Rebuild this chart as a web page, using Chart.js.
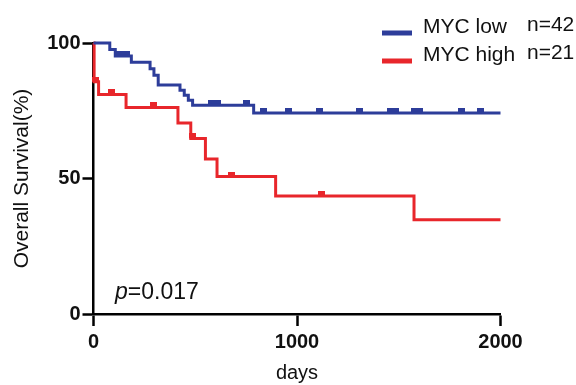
<!DOCTYPE html>
<html>
<head>
<meta charset="utf-8">
<script src="https://cdn.jsdelivr.net/npm/chart.js@4.4.1/dist/chart.umd.min.js"></script>
<style>
  body { margin: 0; background: #fff; }
  canvas { display: block; }
</style>
</head>
<body>
<canvas id="kmChart" width="576" height="385"></canvas>
<script>
// MYC low, n=42 (step at each day, survival % after the step)
let lowDays = [0, 80, 107, 186, 278, 297, 318, 425, 446, 466, 487, 787, 2000];
let lowSurv = [100, 97.6, 95.2, 92.9, 90.5, 88.1, 84.5, 82.6, 80.7, 78.9, 77.0, 74.2, 74.2];
let lowCensored = [125, 140, 160, 580, 610, 750, 835, 960, 1110, 1305, 1460, 1485, 1575, 1600, 1810, 1900];

// MYC high, n=21
let highDays = [0, 3, 25, 160, 415, 478, 550, 607, 895, 1575, 2000];
let highSurv = [100, 85.7, 81.0, 76.2, 70.5, 64.8, 57.2, 50.7, 43.5, 34.8, 34.8];
let highCensored = [10, 90, 297, 485, 679, 1121];

let xTicks = [0, 1000, 2000];
let yTicks = [0, 50, 100];

let blue = '#2d3d9a';
let red = '#e8262b';
let font = 'Liberation Sans, Arial, sans-serif';

function toPoints(days, surv) {
  return days.map(function (d, i) { return { x: d, y: surv[i] }; });
}

// survival level of a curve on a given day (for the censor marks)
function survAt(days, surv, day) {
  let s = surv[0];
  for (let i = 0; i < days.length; i++) {
    if (days[i] <= day) s = surv[i];
  }
  return s;
}

function censorPoints(days, surv, cens) {
  return cens.map(function (d) { return { x: d, y: survAt(days, surv, d) }; });
}

// small block sitting on top of the line
function censorMark(color) {
  let c = document.createElement('canvas');
  c.width = 7;
  c.height = 10;
  let g = c.getContext('2d');
  g.fillStyle = color;
  g.fillRect(0, 0, 7, 5);
  return c;
}

let legendItems = [
  { label: 'MYC low', n: 'n=42', color: blue },
  { label: 'MYC high', n: 'n=21', color: red }
];

const extraText = {
  id: 'extraText',
  afterDraw: function (chart) {
    let c = chart.ctx;
    c.save();
    // legend
    legendItems.forEach(function (item, i) {
      let y = 33 + i * 28;
      c.fillStyle = item.color;
      c.fillRect(382, y - 2.5, 30, 5);
      c.fillStyle = '#111';
      c.font = '21px ' + font;
      c.textBaseline = 'alphabetic';
      c.textAlign = 'left';
      c.fillText(item.label, 423, y);
      c.fillText(item.n, 527, y - 2);
    });
    // p value
    c.font = 'italic 23px ' + font;
    c.fillText('p', 115, 299);
    let w = c.measureText('p').width;
    c.font = '23px ' + font;
    c.fillText('=0.017', 115 + w, 299);
    c.restore();
  }
};

const axisGrid = {
  display: true,
  drawOnChartArea: false,
  drawTicks: true,
  tickWidth: 2.5,
  tickColor: '#000'
};

new Chart(document.getElementById('kmChart').getContext('2d'), {
  type: 'line',
  data: {
    datasets: [
      {
        label: 'MYC low',
        data: toPoints(lowDays, lowSurv),
        borderColor: blue,
        borderWidth: 3,
        stepped: 'before',
        pointRadius: 0,
        clip: 8
      },
      {
        label: 'MYC high',
        data: toPoints(highDays, highSurv),
        borderColor: red,
        borderWidth: 3,
        stepped: 'before',
        pointRadius: 0,
        clip: 8
      },
      {
        type: 'scatter',
        data: censorPoints(lowDays, lowSurv, lowCensored),
        pointStyle: censorMark(blue),
        clip: 8
      },
      {
        type: 'scatter',
        data: censorPoints(highDays, highSurv, highCensored),
        pointStyle: censorMark(red),
        clip: 8
      }
    ]
  },
  options: {
    responsive: false,
    animation: false,
    devicePixelRatio: 1,
    layout: { padding: { top: 43, right: 75.5, left: 0, bottom: 0 } },
    plugins: {
      legend: { display: false },
      tooltip: { enabled: false }
    },
    scales: {
      x: {
        type: 'linear',
        min: 0,
        max: 2000,
        afterBuildTicks: function (scale) {
          scale.ticks = xTicks.map(function (v) { return { value: v }; });
        },
        afterFit: function (scale) { scale.height = 71; },
        grid: Object.assign({}, axisGrid, { tickLength: 12 }),
        border: { display: true, color: '#000', width: 2.5 },
        ticks: {
          color: '#111',
          padding: 4,
          maxRotation: 0,
          callback: function (v) { return String(v); },
          font: { family: font, size: 20, weight: 'bold' }
        },
        title: {
          display: true,
          text: 'days',
          color: '#111',
          padding: { top: 0, bottom: 0 },
          font: { family: font, size: 20 }
        }
      },
      y: {
        type: 'linear',
        min: 0,
        max: 100,
        afterBuildTicks: function (scale) {
          scale.ticks = yTicks.map(function (v) { return { value: v }; });
        },
        afterFit: function (scale) { scale.width = 93.5; },
        grid: Object.assign({}, axisGrid, { tickLength: 11 }),
        border: { display: true, color: '#000', width: 2.5 },
        ticks: {
          color: '#111',
          padding: 2,
          callback: function (v) { return String(v); },
          font: { family: font, size: 20, weight: 'bold' }
        },
        title: {
          display: true,
          text: 'Overall Survival(%)',
          color: '#111',
          padding: { top: 10, bottom: 0 },
          font: { family: font, size: 21 }
        }
      }
    }
  },
  plugins: [extraText]
});
</script>
</body>
</html>
